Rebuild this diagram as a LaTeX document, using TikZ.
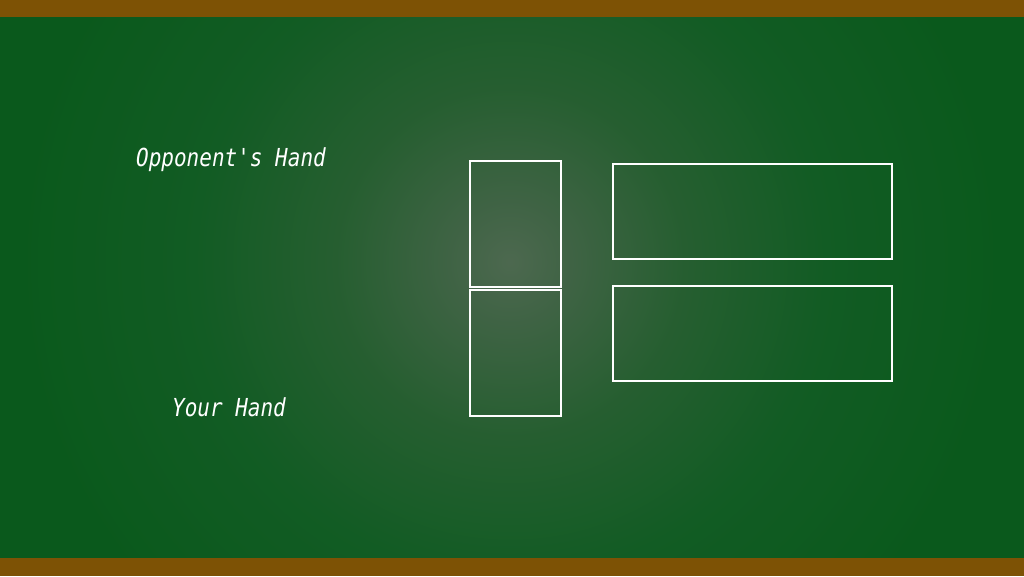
\documentclass[tikz,border=0pt]{standalone}
\usepackage{fontspec}
\newfontfamily\chalkfont{DejaVu Sans Mono}
\usepackage{graphicx}
\usepackage{xcolor}
\definecolor{cboard}{HTML}{08581C}
\definecolor{cwood}{HTML}{7D5205}
\definecolor{cchalk}{HTML}{FFFFFF}
\pgfdeclareradialshading{boardglow}{\pgfpoint{0bp}{0bp}}{%
  rgb(0bp)=(0.30,0.41,0.31);
  rgb(2bp)=(0.25,0.39,0.27);
  rgb(6bp)=(0.15,0.37,0.19);
  rgb(11bp)=(0.07,0.36,0.14);
  rgb(17bp)=(0.04,0.35,0.11);
  rgb(50bp)=(0.03,0.34,0.10)}
\usetikzlibrary{positioning}
\newcommand{\tallchalk}[1]{\scalebox{1}[1.18]{#1}}

\begin{document}
\begin{tikzpicture}[
  x=1pt, y=-1pt,
  label/.style={text=cchalk, font=\chalkfont\itshape\fontsize{21}{24}\selectfont},
  card/.style={draw=cchalk, line width=2pt, minimum width=91pt, minimum height=126pt, inner sep=0pt},
  slot/.style={draw=cchalk, line width=2pt, minimum width=279pt, minimum height=95pt, inner sep=0pt},
]
  \useasboundingbox (0,0) rectangle (1024,576);
  % board and frame
  \fill[cwood] (0,0) rectangle (1024,576);
  \begin{scope}
    \clip (0,17) rectangle (1024,557);
    \fill[cboard] (0,17) rectangle (1024,557);
    \shade[shading=boardglow] (510,262) circle (720);
  \end{scope}

  % hand labels
  \node[label] (opphand) at (231,160) {\tallchalk{Opponent's Hand}};
  \node[label] (yourhand) at (229,407) {\tallchalk{Your Hand}};

  % played cards
  \node[card] (oppcard) at (515.5,224) {};
  \node[card] (yourcard) at (515.5,353) {};

  % score slots
  \node[slot] (oppslot) at (752.5,211.5) {};
  \node[slot] (yourslot) at (752.5,333.5) {};
\end{tikzpicture}
\end{document}
